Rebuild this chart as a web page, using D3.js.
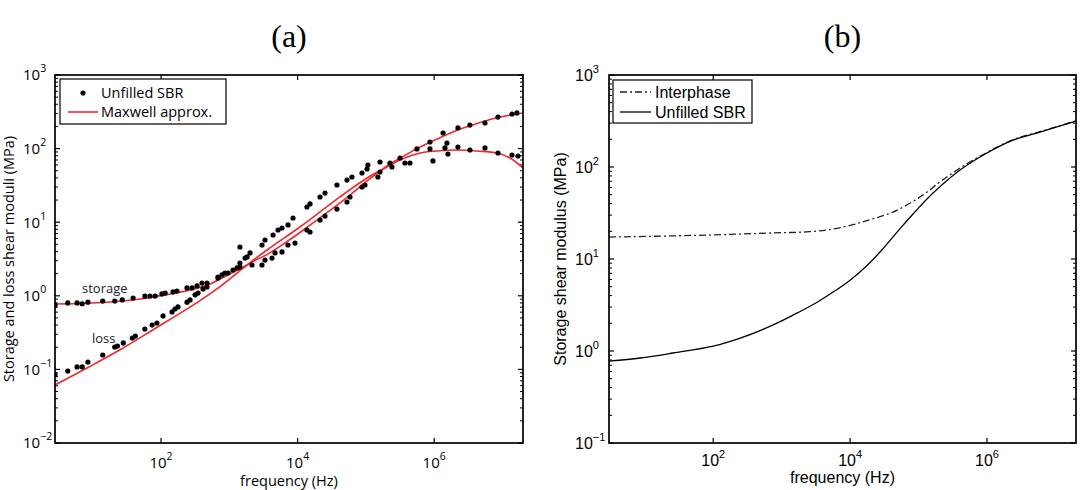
<!DOCTYPE html>
<html>
<head>
<meta charset="utf-8">
<script src="https://cdn.jsdelivr.net/npm/d3@7"></script>
<style>
  body { margin: 0; background: #fff; }
</style>
</head>
<body>
<div class="container"></div>
<script>
const width = 1086;
const height = 490;

// ---- panel (a): measured unfilled SBR (Hz, MPa)
const storageFreq = [2.8, 4.3, 5.9, 7.0, 8.5, 14, 21, 27, 39, 58, 69, 82, 103, 115, 150, 171, 240, 285, 337, 398,
  471, 683, 865, 1130, 1430, 2150, 3010, 3330, 4220, 4670, 5910, 7230, 9150, 13700, 15200, 21300, 25200, 37700, 52900, 58500,
  87700, 97000, 150000, 161000, 225000, 316000, 560000, 868000, 1.35e6, 2.23e6, 3.34e6, 5.55e6, 8.6e6, 1.38e7, 1.63e7];
const storageVal = [0.75, 0.80, 0.80, 0.78, 0.82, 0.85, 0.85, 0.88, 0.93, 0.99, 0.99, 0.99, 1.06, 1.09, 1.13, 1.16, 1.28, 1.28, 1.36, 1.49,
  1.49, 1.80, 2.04, 2.24, 2.46, 2.62, 2.62, 3.06, 3.26, 3.82, 3.94, 4.90, 5.21, 7.83, 7.36, 10.7, 12.1, 15.1, 18.8, 22.0,
  30.1, 32.0, 41.1, 48.1, 63.7, 74.5, 98.9, 123, 163, 191, 209, 223, 268, 295, 305];

const lossFreq = [2.8, 4.3, 5.9, 7.0, 8.5, 14, 21, 23, 28, 38, 42, 58, 74, 87, 107, 145, 160, 177, 240, 266,
  315, 348, 412, 471, 683, 782, 957, 1300, 1430, 1820, 1430, 1700, 2010, 3010, 3330, 4370, 5170, 5910, 7230, 8570,
  13700, 15200, 21300, 25200, 37700, 52900, 62500, 87700, 104000, 107000, 161000, 241000, 373000, 442000, 868000,
  960000, 1.44e6, 1.54e6, 1.59e6, 2.23e6, 3.34e6, 5.55e6, 8.6e6, 1.38e7, 1.69e7];
const lossVal = [0.084, 0.095, 0.108, 0.108, 0.126, 0.157, 0.201, 0.208, 0.229, 0.267, 0.284, 0.354, 0.401, 0.427, 0.532, 0.603, 0.662, 0.705, 0.82, 0.88,
  1.03, 1.09, 1.24, 1.32, 1.75, 1.92, 2.04, 2.39, 2.79, 3.37, 4.60, 3.26, 3.82, 4.90, 5.73, 6.70, 7.83, 8.34, 9.17, 11.4,
  16.1, 17.7, 22.0, 24.9, 32.0, 37.4, 41.1, 46.6, 52.8, 59.9, 65.8, 56.2, 63.7, 63.7, 98.9,
  67.9, 102, 119, 84.5, 105, 95.7, 102, 87.1, 81.8, 79.3];

// Maxwell approx. curves
const fitStorageFreq = [2.8, 6.5, 17.9, 49, 115, 266, 521, 1020, 1700, 2380, 3560, 6110, 10800, 33000, 58500, 104000,
  225000, 316000, 560000, 1.1e6, 2.16e6, 4.24e6, 8.3e6, 2.0e7];
const fitStorageVal = [0.774, 0.785, 0.824, 0.906, 1.03, 1.20, 1.45, 1.98, 2.54, 3.02, 3.63, 5.0, 7.24, 15.5, 23.4, 36.3,
  61.7, 74.1, 100, 135, 178, 219, 263, 305];
const fitLossFreq = [2.8, 8.5, 27, 82, 248, 471, 782, 1700, 3560, 10800, 33000, 104000, 204000, 316000, 620000,
  1.1e6, 2.16e6, 4.24e6, 8.3e6, 1.29e7, 2.0e7];
const fitLossVal = [0.0614, 0.106, 0.192, 0.36, 0.675, 1.0, 1.40, 2.50, 4.19, 8.61, 18.8, 39.9, 56.2, 70.0, 87.1,
  92.7, 95.7, 92.7, 87.1, 74.5, 54.5];

// ---- panel (b): storage shear modulus
const sbrFreq = [3.0, 8.6, 26, 100, 248, 752, 1860, 3300, 5650, 10000, 17700, 29300, 53700, 93300, 163000, 404000, 1e6, 2.4e6, 5.94e6, 2e7];
const sbrVal = [0.778, 0.839, 0.951, 1.13, 1.38, 1.92, 2.69, 3.39, 4.37, 5.89, 8.5, 12.6, 21.4, 33.9, 52.1, 92.7, 142, 196, 240, 316];
const interFreq = [3.0, 82, 752, 2500, 5650, 11000, 17700, 42500, 105000, 206000, 404000, 1e6, 2.4e6, 5.94e6, 2e7];
const interVal = [17.3, 18.2, 19.2, 19.8, 21.2, 23.6, 26.2, 32.4, 47.2, 68.7, 97.5, 144, 198, 242, 318];

const xTicks = [1e2, 1e4, 1e6];
const yTicksA = [1e-2, 1e-1, 1, 10, 100, 1000];
const yTicksB = [1e-1, 1, 10, 100, 1000];

const zip = (xs, ys) => xs.map((x, i) => ({ f: x, g: ys[i] }));

const svg = d3.select(".container")
  .append("svg")
  .attr("width", width)
  .attr("height", height)
  .style("display", "block");

function expText(e) { return e < 0 ? "\u2212" + (-e) : String(e); }

function drawPanel(p) {
  const x = d3.scaleLog().domain(p.xDomain).range([p.left, p.right]);
  const y = d3.scaleLog().domain(p.yDomain).range([p.bottom, p.top]);
  const g = svg.append("g").attr("font-family", p.font).attr("fill", "#000");

  // minor y ticks on both sides
  const lo = Math.round(Math.log10(p.yDomain[0])), hi = Math.round(Math.log10(p.yDomain[1]));
  for (let d = lo; d < hi; d++) {
    for (let k = 2; k <= 9; k++) {
      const yy = y(k * Math.pow(10, d));
      g.append("line").attr("x1", p.left).attr("x2", p.left + 3).attr("y1", yy).attr("y2", yy)
        .attr("stroke", "#000").attr("stroke-width", 1);
      g.append("line").attr("x1", p.right).attr("x2", p.right - 3).attr("y1", yy).attr("y2", yy)
        .attr("stroke", "#000").attr("stroke-width", 1);
    }
  }
  // major ticks
  p.yTicks.forEach(t => {
    const yy = y(t);
    g.append("line").attr("x1", p.left).attr("x2", p.left + 5).attr("y1", yy).attr("y2", yy)
      .attr("stroke", "#000").attr("stroke-width", 1.2);
    g.append("line").attr("x1", p.right).attr("x2", p.right - 5).attr("y1", yy).attr("y2", yy)
      .attr("stroke", "#000").attr("stroke-width", 1.2);
    const lab = g.append("text").attr("x", p.yLabX).attr("y", yy + p.tickSize * 0.36)
      .attr("font-size", p.tickSize);
    lab.append("tspan").text("10");
    lab.append("tspan").attr("font-size", p.supSize).attr("dy", -p.supRaise).text(expText(Math.round(Math.log10(t))));
  });
  xTicks.forEach(t => {
    const xx = x(t);
    g.append("line").attr("x1", xx).attr("x2", xx).attr("y1", p.bottom).attr("y2", p.bottom - 5)
      .attr("stroke", "#000").attr("stroke-width", 1.2);
    g.append("line").attr("x1", xx).attr("x2", xx).attr("y1", p.top).attr("y2", p.top + 5)
      .attr("stroke", "#000").attr("stroke-width", 1.2);
    const lab = g.append("text").attr("x", xx).attr("y", p.xLabY).attr("text-anchor", "middle")
      .attr("font-size", p.tickSize);
    lab.append("tspan").text("10");
    lab.append("tspan").attr("font-size", p.supSize).attr("dy", -p.supRaise).text(expText(Math.round(Math.log10(t))));
  });

  // axis titles
  g.append("text").attr("x", (p.left + p.right) / 2).attr("y", p.xTitleY).attr("text-anchor", "middle")
    .attr("font-size", p.labelSize).text(p.xTitle);
  g.append("text").attr("transform", `translate(${p.yTitleX},${(p.top + p.bottom) / 2}) rotate(-90)`)
    .attr("text-anchor", "middle").attr("font-size", p.labelSize).text(p.yTitle);

  // panel title
  svg.append("text").attr("x", (p.left + p.right) / 2).attr("y", 47).attr("text-anchor", "middle")
    .attr("font-family", "'Liberation Serif', 'DejaVu Serif', serif").attr("font-size", 32).text(p.title);

  const clip = "clip-" + p.title.replace(/[()]/g, "");
  svg.append("clipPath").attr("id", clip).append("rect")
    .attr("x", p.left).attr("y", p.top).attr("width", p.right - p.left).attr("height", p.bottom - p.top);
  const plot = svg.append("g").attr("clip-path", `url(#${clip})`);
  return { x, y, g, plot };
}

function frame(p) {
  svg.append("rect").attr("x", p.left).attr("y", p.top).attr("width", p.right - p.left).attr("height", p.bottom - p.top)
    .attr("fill", "none").attr("stroke", "#000").attr("stroke-width", 1.7);
}

// ---------- panel (a)
const pA = {
  title: "(a)", left: 55, right: 523, top: 75, bottom: 443,
  xDomain: [2.8, 2e7], yDomain: [1e-2, 1e3], yTicks: yTicksA,
  font: "'Open Sans', sans-serif", tickSize: 15, supSize: 10.5, supRaise: 8,
  yLabX: 23, xLabY: 468, xTitleY: 486, yTitleX: 14, labelSize: 14.5,
  xTitle: "frequency (Hz)", yTitle: "Storage and loss shear moduli (MPa)"
};
const a = drawPanel(pA);
const lineA = d3.line().x(d => a.x(d.f)).y(d => a.y(d.g)).curve(d3.curveCatmullRom.alpha(0.5));
[zip(fitStorageFreq, fitStorageVal), zip(fitLossFreq, fitLossVal)].forEach(s => {
  a.plot.append("path").datum(s).attr("d", lineA)
    .attr("fill", "none").attr("stroke", "#f0282d").attr("stroke-width", 1.6);
});
a.plot.selectAll("circle.dat")
  .data(zip(storageFreq, storageVal).concat(zip(lossFreq, lossVal)))
  .join("circle")
  .attr("class", "dat")
  .attr("cx", d => a.x(d.f))
  .attr("cy", d => a.y(d.g))
  .attr("r", 2.6)
  .attr("fill", "#000");
frame(pA);

a.g.append("text").attr("x", 82).attr("y", 293).attr("font-size", 13).attr("fill", "#222").text("storage");
a.g.append("text").attr("x", 92).attr("y", 343).attr("font-size", 13).attr("fill", "#222").text("loss");

// legend (a)
const legA = svg.append("g").attr("font-family", pA.font).attr("font-size", 14.5);
legA.append("rect").attr("x", 60).attr("y", 79).attr("width", 166).attr("height", 45)
  .attr("fill", "#fff").attr("stroke", "#000").attr("stroke-width", 1.2);
legA.append("circle").attr("cx", 83).attr("cy", 93).attr("r", 2.6).attr("fill", "#000");
legA.append("text").attr("x", 101).attr("y", 98).text("Unfilled SBR");
legA.append("line").attr("x1", 68).attr("x2", 98).attr("y1", 112).attr("y2", 112)
  .attr("stroke", "#f0282d").attr("stroke-width", 1.6);
legA.append("text").attr("x", 101).attr("y", 117).text("Maxwell approx.");

// ---------- panel (b)
const pB = {
  title: "(b)", left: 609, right: 1076, top: 75, bottom: 443,
  xDomain: [3.0, 2e7], yDomain: [1e-1, 1e3], yTicks: yTicksB,
  font: "'Liberation Sans', Arial, sans-serif", tickSize: 16, supSize: 11, supRaise: 8,
  yLabX: 575, xLabY: 466, xTitleY: 483, yTitleX: 566, labelSize: 16,
  xTitle: "frequency (Hz)", yTitle: "Storage shear modulus (MPa)"
};
const b = drawPanel(pB);
const lineB = d3.line().x(d => b.x(d.f)).y(d => b.y(d.g)).curve(d3.curveCatmullRom.alpha(0.5));
b.plot.append("path").datum(zip(interFreq, interVal)).attr("d", lineB)
  .attr("fill", "none").attr("stroke", "#222").attr("stroke-width", 1.3).attr("stroke-dasharray", "7,3,2,3");
b.plot.append("path").datum(zip(sbrFreq, sbrVal)).attr("d", lineB)
  .attr("fill", "none").attr("stroke", "#000").attr("stroke-width", 1.3);
frame(pB);

const legB = svg.append("g").attr("font-family", pB.font).attr("font-size", 16);
legB.append("rect").attr("x", 613).attr("y", 80).attr("width", 139).attr("height", 43)
  .attr("fill", "#fff").attr("stroke", "#000").attr("stroke-width", 1.2);
legB.append("line").attr("x1", 620).attr("x2", 651).attr("y1", 92).attr("y2", 92)
  .attr("stroke", "#222").attr("stroke-width", 1.3).attr("stroke-dasharray", "7,3,2,3");
legB.append("text").attr("x", 655).attr("y", 98).text("Interphase");
legB.append("line").attr("x1", 620).attr("x2", 651).attr("y1", 112).attr("y2", 112)
  .attr("stroke", "#000").attr("stroke-width", 1.3);
legB.append("text").attr("x", 655).attr("y", 118).text("Unfilled SBR");
</script>
</body>
</html>
